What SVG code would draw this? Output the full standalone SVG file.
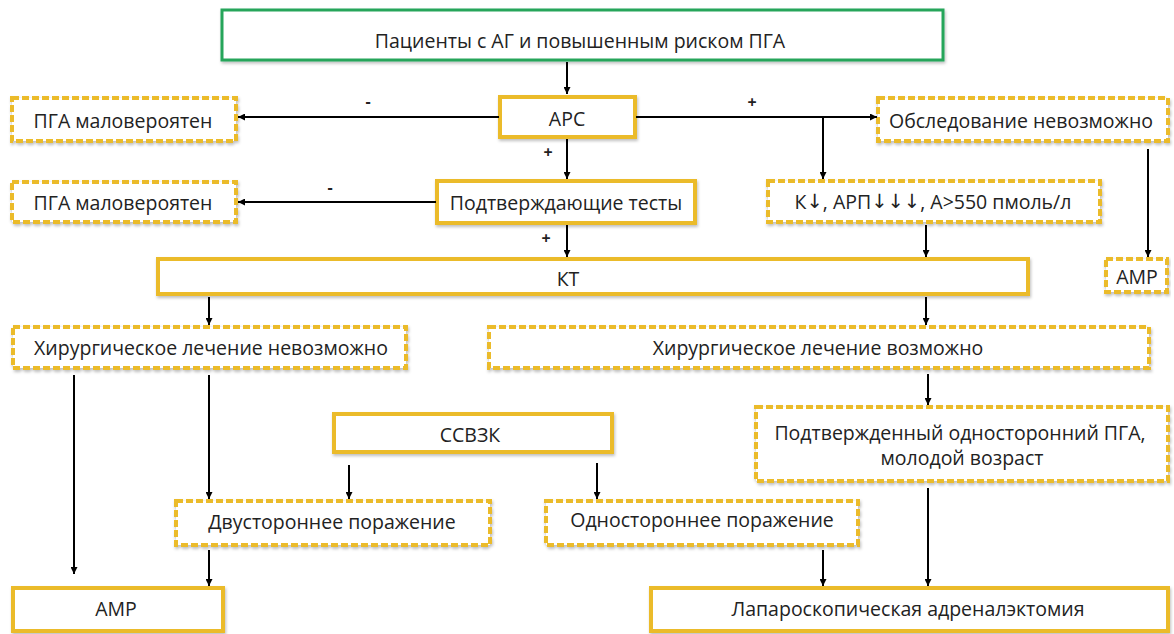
<svg xmlns="http://www.w3.org/2000/svg" width="1174" height="634" viewBox="0 0 1174 634">
<defs>
<filter id="sh" x="-5%" y="-20%" width="110%" height="150%">
<feDropShadow dx="1" dy="2" stdDeviation="1.5" flood-color="#000" flood-opacity="0.25"/>
</filter>
<marker id="ah" viewBox="0 0 10 10" refX="10" refY="5" markerWidth="7" markerHeight="7" markerUnits="userSpaceOnUse" orient="auto">
<path d="M0,0 L10,5 L0,10 z" fill="#000"/>
</marker>
</defs>
<style>
.solid{fill:#fff;stroke:#EBBB2C;stroke-width:4;filter:url(#sh)}
.dash{fill:#fff;stroke:#EBBB2C;stroke-width:4;stroke-dasharray:7 3;filter:url(#sh)}
.green{fill:#fff;stroke:#27A55A;stroke-width:3;filter:url(#sh)}
text{font-family:"Open Sans","Noto Sans",sans-serif;font-size:19.5px;fill:#222;text-anchor:middle;dominant-baseline:central}
.ar{font-family:"DejaVu Sans",sans-serif}
.lbl{font-size:16px;font-weight:bold}
.c{stroke:#000;stroke-width:2;fill:none}
.ca{stroke:#000;stroke-width:2;fill:none;marker-end:url(#ah)}
</style>
<rect width="1174" height="634" fill="#fff"/>

<g id="start"><rect class="green" x="222" y="10" width="721" height="50"/><text x="580" y="40">Пациенты с АГ и повышенным риском ПГА</text></g>
<g id="arc"><rect class="solid" x="500" y="97" width="135" height="40"/><text x="567" y="118">АРС</text></g>
<g id="pga1"><rect class="dash" x="12" y="98" width="224" height="43"/><text x="123" y="120">ПГА маловероятен</text></g>
<g id="obsl"><rect class="dash" x="878" y="98" width="290" height="43"/><text x="1021" y="120">Обследование невозможно</text></g>
<g id="pga2"><rect class="dash" x="12" y="182" width="224" height="40"/><text x="123" y="202">ПГА маловероятен</text></g>
<g id="tests"><rect class="solid" x="437" y="181" width="258" height="42"/><text x="566" y="202">Подтверждающие тесты</text></g>
<g id="kbox"><rect class="dash" x="768" y="181" width="332" height="41"/><text x="933" y="201">К<tspan class="ar">↓</tspan>, АРП<tspan class="ar">↓↓↓</tspan>, А&gt;550 пмоль/л</text></g>
<g id="kt"><rect class="solid" x="158" y="259" width="870" height="35"/><text x="568" y="278">КТ</text></g>
<g id="amr1"><rect class="dash" x="1106" y="259" width="61" height="33"/><text x="1137" y="276">АМР</text></g>
<g id="surgno"><rect class="dash" x="13" y="327" width="393" height="41"/><text x="211" y="347">Хирургическое лечение невозможно</text></g>
<g id="surgyes"><rect class="dash" x="489" y="327" width="660" height="41"/><text x="818" y="347">Хирургическое лечение возможно</text></g>
<g id="confirmed"><rect class="dash" x="756" y="407" width="412" height="74"/><text x="960" y="432">Подтвержденный односторонний ПГА,</text><text x="962" y="457">молодой возраст</text></g>
<g id="ssvzk"><rect class="solid" x="334" y="414" width="278" height="38"/><text x="470" y="434">ССВЗК</text></g>
<g id="bilat"><rect class="dash" x="176" y="501" width="314" height="44"/><text x="332" y="521">Двустороннее поражение</text></g>
<g id="unilat"><rect class="dash" x="546" y="501" width="312" height="44"/><text x="702" y="519">Одностороннее поражение</text></g>
<g id="amr2"><rect class="solid" x="13" y="588" width="210" height="43"/><text x="116" y="608">АМР</text></g>
<g id="lap"><rect class="solid" x="651" y="588" width="517" height="43"/><text x="908" y="608">Лапароскопическая адреналэктомия</text></g>

<g id="connectors">
<path class="ca" d="M567,62 V94"/>
<path class="ca" d="M499,117 H238"/>
<path class="ca" d="M636,117 H877"/>
<path class="ca" d="M823,117 V179"/>
<path class="ca" d="M567,139 V179"/>
<path class="ca" d="M436,202 H238"/>
<path class="ca" d="M567,225 V257"/>
<path class="ca" d="M926,225 V257"/>
<path class="ca" d="M1148,149 V257"/>
<path class="ca" d="M209,297 V325"/>
<path class="ca" d="M926,297 V325"/>
<path class="ca" d="M928,374 V405"/>
<path class="ca" d="M74,375 V574"/>
<path class="ca" d="M209,375 V499"/>
<path class="ca" d="M349,465 V499"/>
<path class="ca" d="M597,463 V499"/>
<path class="ca" d="M209,550 V586"/>
<path class="ca" d="M823,550 V586"/>
<path class="ca" d="M928,488 V586"/>
<text class="lbl" x="368" y="101">-</text>
<text class="lbl" x="752" y="102">+</text>
<text class="lbl" x="548" y="152">+</text>
<text class="lbl" x="330" y="187">-</text>
<text class="lbl" x="546" y="238">+</text>
</g>
</svg>
